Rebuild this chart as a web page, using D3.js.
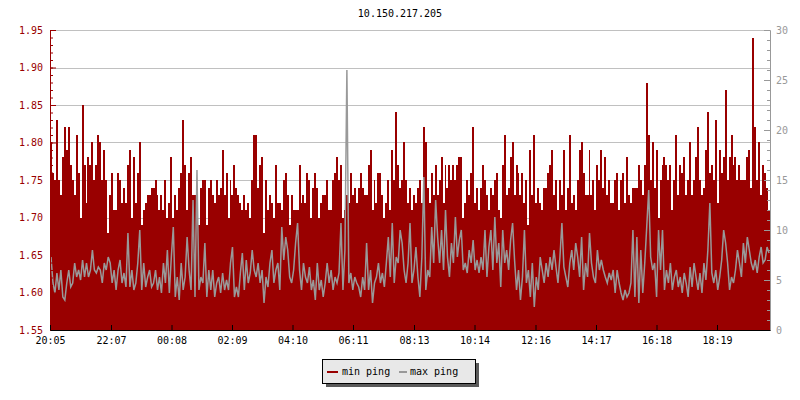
<!DOCTYPE html>
<html>
<head>
<meta charset="utf-8">
<script src="https://cdn.jsdelivr.net/npm/d3@7"></script>
<style>
body { margin: 0; background: #fff; }
text { font-family: "DejaVu Sans Mono", monospace; font-size: 10px; }
</style>
</head>
<body>
<div id="chart"></div>
<script>
var margin = {top: 30, right: 30, bottom: 70, left: 50}
var width = 720
var height = 300

// Data

var title = "10.150.217.205"
var seriesNames = ["min ping", "max ping"]

var minPing = [
  1.80,1.76,1.75,1.83,1.75,1.73,1.78,1.82,1.79,1.82,1.77,1.75,1.73,1.81,1.76,1.70,1.85,1.77,1.72,1.78,1.77,1.80,1.75,1.77,1.81,1.80,
  1.75,1.79,1.75,1.68,1.73,1.76,1.71,1.71,1.76,1.75,1.72,1.74,1.72,1.77,1.79,1.70,1.78,1.72,1.76,1.80,1.69,1.71,1.72,1.73,1.73,1.74,
  1.74,1.75,1.73,1.71,1.73,1.71,1.75,1.70,1.72,1.78,1.70,1.73,1.71,1.74,1.76,1.83,1.77,1.71,1.76,1.78,1.73,1.73,1.71,1.69,1.74,1.75,
  1.75,1.69,1.74,1.75,1.73,1.72,1.75,1.73,1.74,1.79,1.73,1.76,1.70,1.75,1.73,1.77,1.74,1.73,1.72,1.71,1.73,1.71,1.72,1.70,1.75,1.81,
  1.81,1.74,1.77,1.78,1.68,1.75,1.71,1.73,1.72,1.70,1.77,1.72,1.72,1.71,1.75,1.76,1.73,1.69,1.73,1.71,1.71,1.71,1.77,1.72,1.73,1.72,
  1.76,1.75,1.70,1.74,1.76,1.74,1.70,1.72,1.73,1.73,1.75,1.71,1.71,1.75,1.76,1.78,1.75,1.77,1.70,1.71,1.73,1.72,1.76,1.73,1.74,1.72,
  1.74,1.76,1.74,1.73,1.73,1.77,1.79,1.71,1.75,1.72,1.76,1.76,1.73,1.70,1.72,1.75,1.71,1.79,1.75,1.84,1.77,1.74,1.75,1.80,1.75,1.72,
  1.74,1.71,1.73,1.72,1.74,1.75,1.72,1.82,1.80,1.74,1.72,1.76,1.73,1.77,1.73,1.75,1.78,1.72,1.77,1.74,1.77,1.75,1.77,1.75,1.77,1.78,
  1.78,1.70,1.72,1.75,1.73,1.76,1.82,1.72,1.74,1.71,1.74,1.77,1.75,1.73,1.71,1.74,1.73,1.75,1.76,1.71,1.70,1.77,1.81,1.73,1.74,1.78,
  1.80,1.73,1.77,1.76,1.73,1.76,1.72,1.75,1.69,1.79,1.73,1.81,1.72,1.74,1.72,1.71,1.74,1.74,1.76,1.77,1.79,1.73,1.75,1.71,1.75,1.73,1.79,
  1.71,1.74,1.81,1.72,1.73,1.71,1.75,1.79,1.80,1.76,1.73,1.73,1.79,1.73,1.75,1.71,1.77,1.75,1.79,1.74,1.78,1.73,1.75,1.72,1.72,1.75,
  1.76,1.71,1.75,1.76,1.72,1.78,1.73,1.72,1.74,1.74,1.74,1.77,1.75,1.73,1.77,1.88,1.81,1.75,1.80,1.74,1.79,1.70,1.75,1.77,1.78,1.77,
  1.75,1.77,1.71,1.75,1.81,1.73,1.77,1.76,1.78,1.73,1.75,1.80,1.73,1.75,1.78,1.82,1.75,1.73,1.74,1.79,1.84,1.76,1.77,1.75,1.83,1.72,
  1.79,1.76,1.78,1.87,1.75,1.78,1.81,1.77,1.78,1.75,1.77,1.75,1.75,1.75,1.78,1.79,1.74,1.94,1.82,1.75,1.80,1.73,1.77,1.76,1.74,1.71
]

var maxPing = [
  7.3,4.7,3.7,5.7,4,6,3.3,3,4.7,6,4.3,4.7,6.7,5.3,6,5,7,5.3,6.7,5.3,6,8,6,5.7,6.3,6,
  4.7,6.7,6,7.3,6.7,4.7,6,4,6,7,4.7,5.7,4.3,9.7,4.3,6,4,4.7,6.7,10,4,6.7,4.3,5.3,6,4.3,
  4.7,6,4,5.3,3.7,6.7,4.7,8,3.7,7.3,10.3,3.3,5.3,3,6.7,4,5.3,9.3,6,4,13,3.3,16,4,5.3,4.7,
  8.7,3.3,6,4,6,3.3,4.7,5.3,3.7,5.7,4,5,4,6.7,8.3,3.3,4.3,3.3,5.7,7.7,4,7,4.7,5.7,8,6,
  5.3,6.7,4.7,6,2.7,5.3,4.3,6.7,8,4.7,6,6.7,4,10.3,7,9.3,8,5.3,4.7,6,8.7,10.7,6,4,6.7,5.3,
  4.7,6.3,4,5,3,6.7,4,5,3.3,4.7,6.7,4.7,6,4,5.3,4.7,5.7,10.7,4,8,26,4.7,5.7,4,5.3,4.7,
  4.3,3.3,5.3,4,8.7,4,6,2.7,4.7,5.3,6.7,4.7,5.7,4.3,6.7,9.3,5.3,10.7,4.7,7.3,6.7,10,8.7,6,4.7,6.7,
  10.7,4.7,6,8.3,5.3,3.3,7.3,15.3,4,6,5.3,10.3,6.7,13,9.3,6.7,10,6,12,7.3,5.3,8.7,6.7,11.3,7.3,9,
  10,6,6.7,5.7,8,6.7,9,6,7,5.7,7.3,6,10,5.3,8.3,10,6,11.3,6.7,8.7,4.3,10,6.7,8,6,9,
  10.7,7,4,6,3,5.3,10,4.7,6,3.3,6.7,2.3,5.3,4,7.3,6,4.7,6.7,5.3,7.3,6,8,6.3,4.7,7.3,10.7,6.3,
  5.3,4.3,6.7,8,6,8.7,7.3,5.3,9.3,4,6.7,5.3,9.7,6.7,5.3,4.7,8,6,7,6,5.3,4.7,5.7,5,6,3.7,
  6,4.7,3.7,3,4,3.3,3.7,4.7,10,3.3,9.3,2.7,8,3.7,6.7,10.3,14,7.3,6,6.7,3.3,10,6,10,4,6,
  4.7,6.7,4,5.3,6,4.3,5.3,3.7,5.7,4.7,3.3,6.3,4.3,6.7,5.3,4,5.7,3.7,6.7,5,8,12.7,5.7,4.7,6,4,
  5.3,7,10,8.7,6.7,4,5.3,4.7,6,8,6.7,5.3,8.7,6.7,9.3,8,6.7,6,7,5.7,7.3,8.3,6.7,7,8.3,7.7
]

var timeLabels = ["20:05","22:07","00:08","02:09","04:10","06:11","08:13","10:14","12:16","14:17","16:18","18:19"]
var leftTicks = [1.55, 1.60, 1.65, 1.70, 1.75, 1.80, 1.85, 1.90, 1.95]
var rightTicks = [0, 5, 10, 15, 20, 25, 30]

// Times

var start = new Date(2020, 0, 1, 20, 5)
var end = d3.timeMinute.offset(start, 1440)
var step = (end - start) / minPing.length
var times = minPing.map(function(d, i) { return new Date(+start + i * step) })
times.push(end)

var tickTimes = []
var day = 0, prev = -1
timeLabels.forEach(function(s) {
    var hm = s.split(":").map(Number)
    var m = hm[0] * 60 + hm[1]
    if (m < prev) day++
    prev = m
    tickTimes.push(new Date(2020, 0, 1 + day, hm[0], hm[1]))
})

// Scales

var x_scale = d3.scaleTime()
    .domain([start, end])
    .range([margin.left, margin.left + width])

var y_left = d3.scaleLinear()
    .domain([1.55, 1.95])
    .range([margin.top + height, margin.top])

var y_right = d3.scaleLinear()
    .domain([0, 30])
    .range([margin.top + height, margin.top])

var red = "#990000"
var gray = "#999999"

var svg = d3.select("#chart")
    .append("svg")
    .attr("width", 800)
    .attr("height", 400)
    .style("background-color", "white")

// Title

svg.append("text")
    .attr("x", 400)
    .attr("y", 17)
    .attr("text-anchor", "middle")
    .attr("fill", "#000")
    .text(title)

// Grid

svg.append("g")
    .selectAll("line")
    .data(leftTicks)
    .enter()
    .append("line")
    .attr("x1", margin.left)
    .attr("x2", margin.left + width)
    .attr("y1", function(d) { return Math.round(y_left(d)) + 0.5 })
    .attr("y2", function(d) { return Math.round(y_left(d)) + 0.5 })
    .attr("stroke", "#c0c0c0")

// min ping bars

svg.append("g")
    .attr("shape-rendering", "crispEdges")
    .selectAll("rect")
    .data(minPing)
    .enter()
    .append("rect")
    .attr("x", function(d, i) { return Math.round(x_scale(times[i])) })
    .attr("width", function(d, i) { return Math.round(x_scale(times[i + 1])) - Math.round(x_scale(times[i])) })
    .attr("y", function(d) { return Math.round(y_left(d)) })
    .attr("height", function(d) { return Math.round(y_left(1.55)) - Math.round(y_left(d)) })
    .attr("fill", red)

// max ping line

var line = d3.line()
    .x(function(d, i) { return x_scale(times[i]) + 1 })
    .y(function(d) { return y_right(d) })

svg.append("path")
    .datum(maxPing)
    .attr("d", line)
    .attr("fill", "none")
    .attr("stroke", gray)
    .attr("stroke-width", 1.5)

// Axes

var leftMinor = d3.range(155, 196).map(function(v) { return v / 100 })
var rightMinor = d3.range(0, 31)

svg.append("g")
    .attr("transform", "translate(" + margin.left + ",0)")
    .call(d3.axisLeft(y_left).tickValues(leftMinor).tickSize(-3).tickSizeOuter(0).tickFormat(""))
    .call(function(g) { g.selectAll("line,path").attr("stroke", red) })

svg.append("g")
    .attr("transform", "translate(" + margin.left + ",0)")
    .call(d3.axisLeft(y_left).tickValues(leftTicks).tickSize(-6).tickSizeOuter(0).tickPadding(7).tickFormat(d3.format(".2f")))
    .call(function(g) {
        g.selectAll("line,path").attr("stroke", red)
        g.selectAll("text").attr("fill", red).style("font-size", "10px").style("font-family", "DejaVu Sans Mono, monospace")
    })

svg.append("g")
    .attr("transform", "translate(" + (margin.left + width) + ",0)")
    .call(d3.axisRight(y_right).tickValues(rightMinor).tickSize(-3).tickSizeOuter(0).tickFormat(""))
    .call(function(g) { g.selectAll("line,path").attr("stroke", gray) })

svg.append("g")
    .attr("transform", "translate(" + (margin.left + width) + ",0)")
    .call(d3.axisRight(y_right).tickValues(rightTicks).tickSize(-6).tickSizeOuter(0).tickPadding(6))
    .call(function(g) {
        g.selectAll("line,path").attr("stroke", gray)
        g.selectAll("text").attr("fill", gray).style("font-size", "10px").style("font-family", "DejaVu Sans Mono, monospace")
    })

svg.append("g")
    .attr("transform", "translate(0," + (margin.top + height) + ")")
    .call(d3.axisBottom(x_scale).tickValues(tickTimes).tickSize(-5).tickSizeOuter(0).tickPadding(7).tickFormat(d3.timeFormat("%H:%M")))
    .call(function(g) {
        g.selectAll("line,path").attr("stroke", "#000")
        g.selectAll("text").attr("fill", "#000").style("font-size", "10px").style("font-family", "DejaVu Sans Mono, monospace")
    })

// Legend

var legend = svg.append("g")
    .attr("shape-rendering", "crispEdges")

legend.append("rect")
    .attr("x", 326).attr("y", 363)
    .attr("width", 153).attr("height", 24)
    .attr("fill", "#5a5a5a")

legend.append("rect")
    .attr("x", 322.5).attr("y", 359.5)
    .attr("width", 153).attr("height", 24)
    .attr("fill", "#e8e8e8")
    .attr("stroke", "#000")

var swatchX = [327, 399]
var labelX = [342, 410]
var colors = [red, gray]

seriesNames.forEach(function(name, i) {
    legend.append("rect")
        .attr("x", swatchX[i]).attr("y", 371)
        .attr("width", i == 0 ? 11 : 8).attr("height", 2)
        .attr("fill", colors[i])
    legend.append("text")
        .attr("x", labelX[i]).attr("y", 375)
        .attr("fill", "#000")
        .text(name)
})
</script>
</body>
</html>
